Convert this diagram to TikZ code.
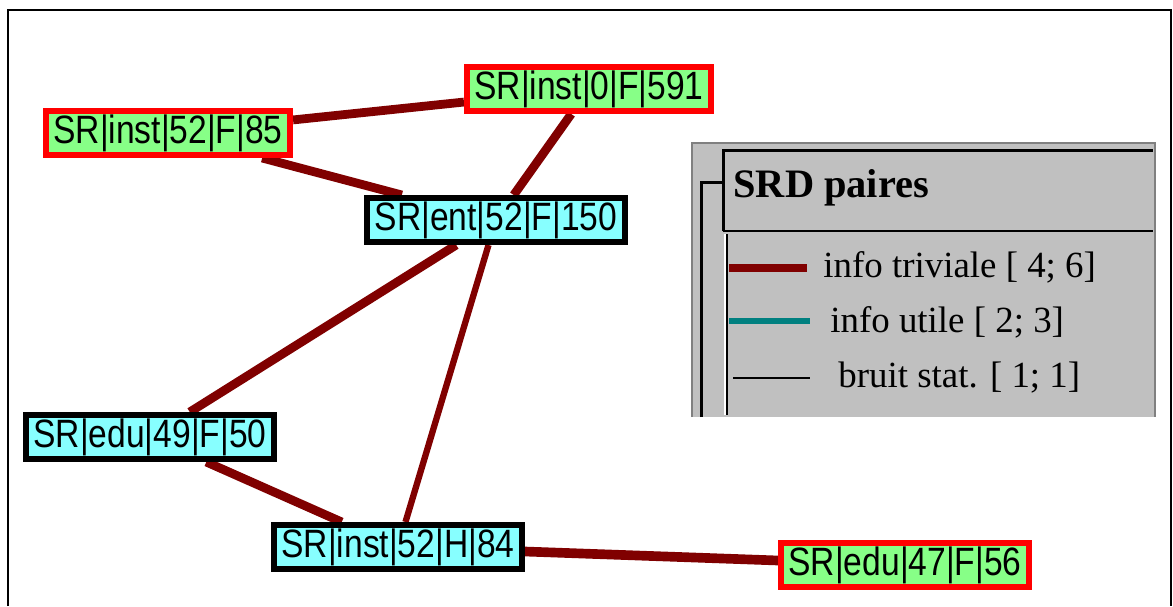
\documentclass[tikz,border=0pt]{standalone}
\usepackage{fontspec}
\setmainfont{Liberation Serif}
\newfontfamily\pixfont[FakeStretch=0.85]{Liberation Sans}
\usetikzlibrary{backgrounds}

\definecolor{linkred}{RGB}{128,0,0}
\definecolor{checkgreen}{RGB}{135,255,135}
\definecolor{checkcyan}{RGB}{135,255,255}
\definecolor{panelgray}{RGB}{192,192,192}
\definecolor{panelshade}{RGB}{128,128,128}
\definecolor{utileteal}{RGB}{0,128,128}

\tikzset{
  srbox/.style={rectangle, line width=3.4pt, minimum height=0.88cm,
    inner xsep=0.15cm, inner ysep=0pt,
    font=\pixfont\fontsize{22.5}{22.5}\selectfont},
  rare/.style={srbox, draw=red, fill=checkgreen},
  usual/.style={srbox, draw=black, fill=checkcyan},
  legtext/.style={anchor=base west, inner sep=0pt,
    font=\fontsize{21}{21}\selectfont}
}

\begin{document}
\begin{tikzpicture}[x=0.02cm, y=-0.02cm]
      \useasboundingbox (0,0) rectangle (1173,606);
      \draw[line width=1.1pt] (8,606) -- (8,10) -- (1171,10) -- (1171,606);
      % pairs
      \node[rare] (1) at (168,133) {SR|inst|52|F|85};
      \node[rare] (2) at (589,89) {SR|inst|0|F|591};
      \node[usual] (3) at (496,220) {SR|ent|52|F|150};
      \node[usual] (4) at (150,437) {SR|edu|49|F|50};
      \node[usual] (5) at (398,547) {SR|inst|52|H|84};
      \node[rare] (6) at (905,565) {SR|edu|47|F|56};
      \begin{pgfonlayer}{background}
        \begin{scope}[every edge/.style={draw=linkred, line width=5pt}]
          \path (1) edge (2);
          \path (1) edge (3);
          \path (2) edge (3);
          \path (3) edge (4);
          \path (3) edge[line width=3.6pt] (5);
          \path (4) edge (5);
          \path (5) edge[line width=5.5pt] (6);
        \end{scope}
      \end{pgfonlayer}
      % legend
      \fill[panelgray] (692,143) rectangle (1155,417);
      \draw[panelshade, line width=1.2pt] (692,417) -- (692,143) -- (1155,143) -- (1155,417);
      \draw[line width=1.7pt] (723,231) -- (723,150) -- (1153,150);
      \draw[line width=1.2pt] (723,231) -- (1153,231);
      \draw[line width=1.7pt] (701,417) -- (701,182) -- (723,182);
      \draw[white, line width=1.2pt] (725,234) -- (725,415);
      \draw[line width=1.2pt] (727,234) -- (727,415);
      \node[anchor=base west, inner sep=0pt, font=\bfseries\fontsize{23}{23}\selectfont] (title) at (733,197) {SRD paires};
      \node[legtext] (triv) at (823,277) {info triviale [ 4; 6]};
      \node[legtext] (util) at (830,332) {info utile [ 2; 3]};
      \node[legtext] (bruit) at (838,387) {bruit stat. [ 1; 1]};
      \draw[linkred, line width=4.5pt] (729,268) -- (807,268);
      \draw[utileteal, line width=3pt] (729,321) -- (810,321);
      \draw[line width=1.2pt] (733,378) -- (810,378);
    \end{tikzpicture}
\end{document}
